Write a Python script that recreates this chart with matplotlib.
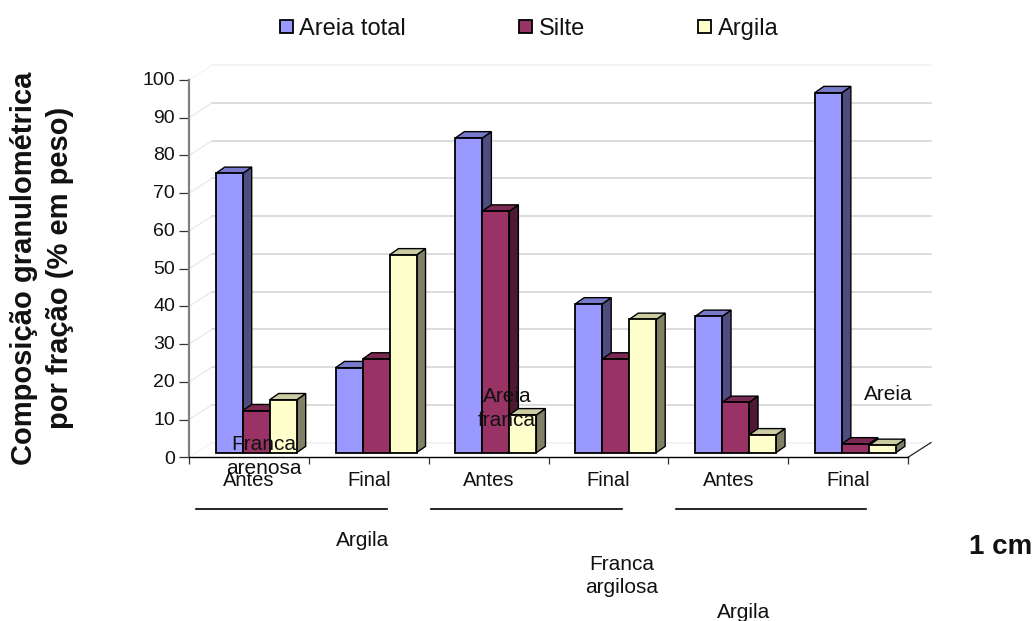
import matplotlib
matplotlib.use("Agg")
import matplotlib.pyplot as plt
from matplotlib.patches import Patch
from matplotlib.transforms import ScaledTranslation

categories = ["Antes", "Final", "Antes", "Final", "Antes", "Final"]
areia_total = [74.0, 22.5, 83.4, 39.4, 36.1, 95.4]
silte = [11.1, 24.8, 64.0, 24.8, 13.3, 2.3]
argila = [14.0, 52.4, 10.0, 35.3, 4.7, 1.9]
series_names = ["Areia total", "Silte", "Argila"]
yticks = list(range(0, 101, 10))

W, H = 1035, 621
plt.rcParams["font.family"] = ["Liberation Sans", "DejaVu Sans"]
fig = plt.figure(figsize=(W / 100, H / 100), dpi=100)
L, R, T, B = 189, 908, 80, 457.3
ax = fig.add_axes([L / W, 1 - B / H, (R - L) / W, (B - T) / H])
ax.set_xlim(0, 6)
ax.set_ylim(0, 100)
for s in ("top", "right"):
    ax.spines[s].set_visible(False)
ax.spines["left"].set_color("#808080")
ax.spines["left"].set_linewidth(1.6)
ax.spines["bottom"].set_color("black")
ax.spines["bottom"].set_linewidth(1.0)

px = (R - L) / 6
py = (B - T) / 100
wall_dx, wall_dy = 23 / px, 3.9
depth_dx, depth_dy = 9 / px, 6.3 / py
bar_w = 27 / px
start = 26.7 / px
base = 1.24

# back wall
for v in yticks:
    col = "#f0f0f0" if v in (0, 100) else "#d2d2d2"
    ax.plot([wall_dx, 6 + wall_dx], [v + wall_dy] * 2, color=col, lw=1.1, clip_on=False, zorder=1)
    ax.plot([0, wall_dx], [v, v + wall_dy], color="#e6e6e6" if v not in (0, 100) else "#f2f2f2",
            lw=0.8, clip_on=False, zorder=1)
ax.plot([6, 6 + wall_dx], [0, wall_dy], color="#222222", lw=0.9, clip_on=False, zorder=1)

series = [areia_total, silte, argila]
fronts = ["#9999FF", "#993366", "#FFFFCC"]
sides = ["#4D4D80", "#4D1933", "#808066"]
tops = ["#7A7ACC", "#7A2952", "#CCCCA3"]
z = 2
for i in range(len(categories)):
    for j, vals in enumerate(series):
        v = vals[i]
        x0 = i + start + j * bar_w
        x1 = x0 + bar_w
        top = base + v
        ax.fill([x1, x1 + depth_dx, x1 + depth_dx, x1],
                [base, base + depth_dy, top + depth_dy, top],
                facecolor=sides[j], edgecolor="black", lw=1.0, clip_on=False, zorder=z)
        ax.fill([x0, x0 + depth_dx, x1 + depth_dx, x1],
                [top, top + depth_dy, top + depth_dy, top],
                facecolor=tops[j], edgecolor="black", lw=1.0, clip_on=False, zorder=z)
        ax.bar(x0, v, width=bar_w, bottom=base, align="edge", color=fronts[j],
               edgecolor="black", linewidth=1.3, clip_on=False, zorder=z + 0.5)
        z += 1

ax.set_yticks(yticks)
ax.set_xticks(range(7))
ax.set_xticklabels([])
ax.set_xticks([i + 0.5 for i in range(6)], minor=True)
ax.set_xticklabels(categories, minor=True, fontsize=14.5, color="#111111")
ax.tick_params(axis="x", which="major", length=5, width=0.9, color="#333333")
ax.tick_params(axis="x", which="minor", length=0, pad=10)
ax.tick_params(axis="y", length=7, width=0.9, labelsize=14, pad=3, color="#333333", labelcolor="#111111")
shift = ScaledTranslation(0, 1.5 / 100, fig.dpi_scale_trans)
for lab in ax.get_yticklabels():
    if lab.get_text() != "0":
        lab.set_transform(lab.get_transform() + shift)


def ptext(x, y, s, **kw):
    kw.setdefault("ha", "center")
    kw.setdefault("va", "center")
    kw.setdefault("zorder", 100)
    return fig.text(x / W, 1 - y / H, s, **kw)


for x, y, s in [(264, 456.5, "Franca\narenosa"), (507, 408.5, "Areia\nfranca"), (888, 395, "Areia")]:
    ptext(x, y, s, fontsize=15, color="#111111", linespacing=1.27)

ptext(363, 541, "Argila", fontsize=15, color="#111111")
ptext(622, 576, "Franca\nargilosa", fontsize=15, color="#111111", linespacing=1.22)
ptext(744, 612.5, "Argila", fontsize=15, color="#111111")
ptext(1001, 547, "1 cm", fontsize=20, fontweight="bold", color="#111111")
ptext(24.5, 268, "Composição granulométrica", fontsize=21, fontweight="bold", rotation=90, color="#111111")
ptext(60, 268, "por fração (% em peso)", fontsize=21, fontweight="bold", rotation=90, color="#111111")

for x0, x1 in [(196, 386.5), (431, 622), (675.5, 865.5)]:
    fig.add_artist(plt.Line2D([x0 / W, x1 / W], [1 - 509 / H] * 2, color="black", lw=1.2))

handles = [Patch(facecolor=c, edgecolor="black", linewidth=1.3) for c in fronts]
fig.legend(handles, series_names, ncol=3, frameon=False, fontsize=17,
           loc="upper left", bbox_to_anchor=(280 / W, 1 - 18 / H), borderaxespad=0, borderpad=0,
           handlelength=0.55, handleheight=0.5, handletextpad=0.27, columnspacing=4.8, labelcolor="#111111")

fig.savefig("out.png", dpi=100)
